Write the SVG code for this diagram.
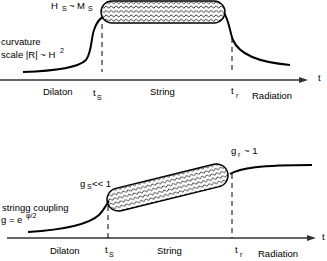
<svg xmlns="http://www.w3.org/2000/svg" width="327" height="261" viewBox="0 0 327 261">
<defs>
<pattern id="wave" width="5" height="4.4" patternUnits="userSpaceOnUse">
<path d="M0,2.7 Q1.25,0.5 2.5,2.7 T5,2.7" fill="none" stroke="#000" stroke-width="0.85"/>
</pattern>
</defs>
<style>
text{font-family:"Liberation Sans",Arial,sans-serif;font-size:9.5px;fill:#000}
.sub{font-size:7px}
.curve{fill:none;stroke:#000;stroke-width:2}
.axis{fill:none;stroke:#333;stroke-width:1.3}
.dash{fill:none;stroke:#000;stroke-width:1;stroke-dasharray:5,4}
.pill{fill:url(#wave);stroke:#000;stroke-width:1.4}
</style>
<rect width="327" height="261" fill="#fff"/>
<g id="connectors">
<path class="axis" d="M0,80 H300"/>
<polygon points="299,77 308,80 299,83" fill="#333"/>
<path class="axis" d="M7,238 H308"/>
<polygon points="307,235 316,238 307,241" fill="#333"/>
<path class="dash" d="M102,24 V72"/>
<path class="dash" d="M232,38 V72"/>
<path class="dash" d="M108,206 V238"/>
<path class="dash" d="M232,174 V238"/>
<path class="curve" d="M23,72 C55,71 78,68 86,60 C92,52 91,38 94,30 C96,24 99,19 103,17"/>
<path class="curve" d="M224,13 C229,20 230,33 233,40 C238,52 255,62 290,65"/>
<path class="curve" d="M28,232 C60,230 88,225 99,215 C104,210 106,205 109,201"/>
<path class="curve" d="M230,174 C240,168 260,165 312,165"/>
</g>
<g id="string-top">
<rect class="pill" x="101" y="1" width="124" height="22" rx="11"/>
</g>
<g id="string-bottom">
<rect class="pill" x="-62" y="-11.5" width="124" height="23" rx="11.5" transform="translate(167.5,187.5) rotate(-13.8)"/>
</g>
<g id="labels-top">
<text x="51" y="9">H</text><text class="sub" x="62" y="11">S</text>
<text x="69" y="9">~</text>
<text x="77" y="9">M</text><text class="sub" x="88" y="11">S</text>
<text x="1" y="45">curvature</text>
<text x="1" y="58">scale |R| ~ H</text><text class="sub" x="60" y="53">2</text>
<text x="43" y="95">Dilaton</text>
<text x="93" y="96">t</text><text class="sub" x="97" y="100">S</text>
<text x="150" y="95">String</text>
<text x="231" y="94">t</text><text class="sub" x="236" y="98">r</text>
<text x="252" y="99">Radiation</text>
<text x="318" y="81">t</text>
</g>
<g id="labels-bottom">
<text x="80" y="187">g</text><text class="sub" x="87" y="189">S</text><text x="92" y="187">&lt;&lt; 1</text>
<text x="2" y="211">stringg coupling</text>
<text x="1" y="223">g = e</text><text class="sub" x="26" y="218">φ/2</text>
<text x="50" y="254">Dilaton</text>
<text x="105" y="253">t</text><text class="sub" x="109" y="257">S</text>
<text x="157" y="254">String</text>
<text x="235" y="253">t</text><text class="sub" x="240" y="257">r</text>
<text x="258" y="257">Radiation</text>
<text x="322" y="240">t</text>
<text x="231" y="154">g</text><text class="sub" x="238" y="157">r</text><text x="244" y="154">~ 1</text>
</g>
</svg>
